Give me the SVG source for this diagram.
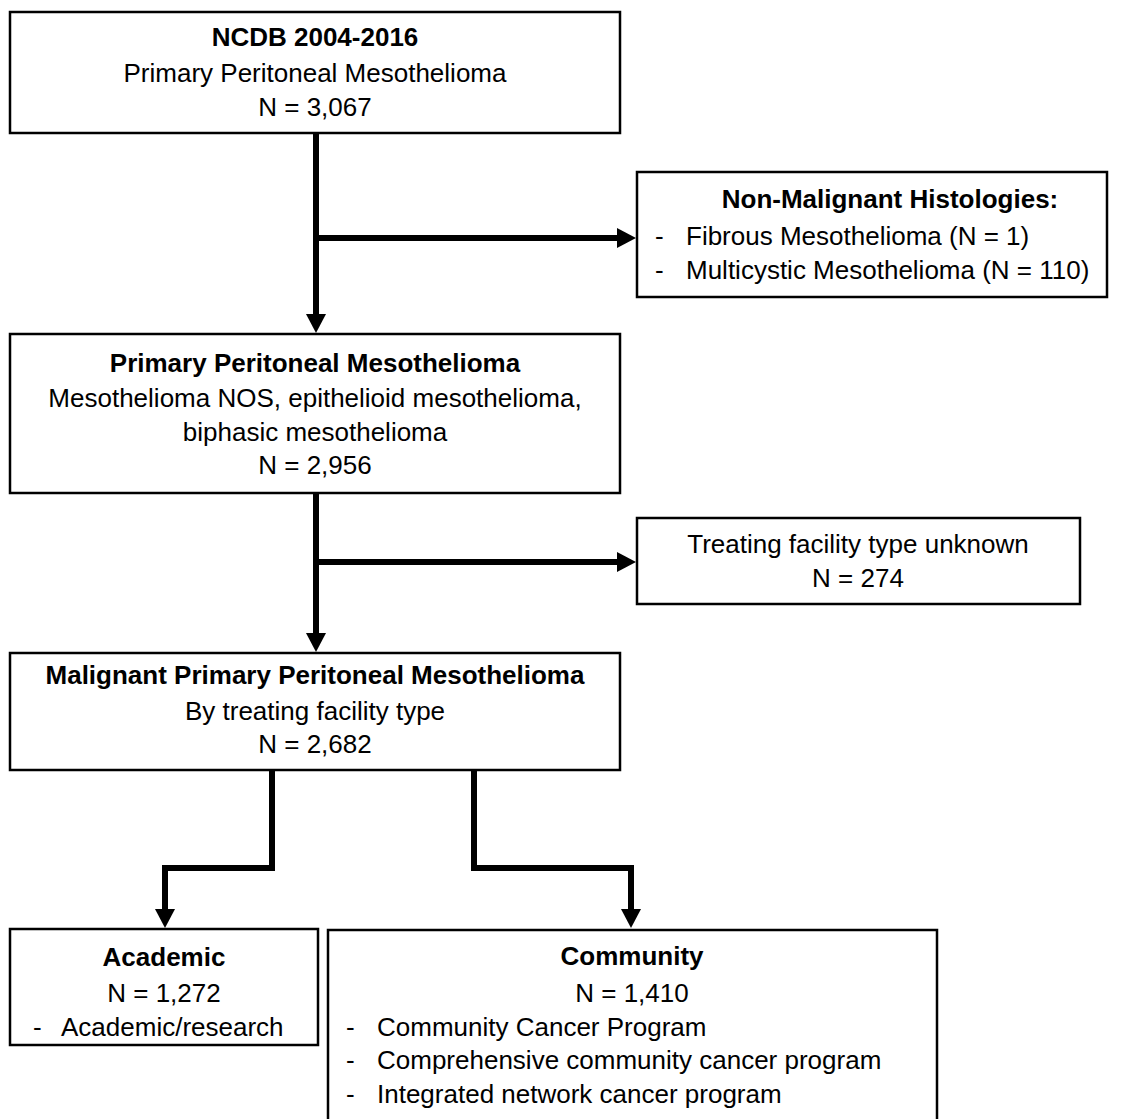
<svg xmlns="http://www.w3.org/2000/svg" width="1136" height="1119" viewBox="0 0 1136 1119">
<style>
.box{fill:#fff;stroke:#000;stroke-width:2.5}
text{font-family:"Liberation Sans",Arial,sans-serif;font-size:26px;fill:#000}
.c{text-anchor:middle}
.b{font-weight:bold}
.conn{fill:none;stroke:#000;stroke-width:6;stroke-linejoin:miter}
</style>
<defs>
<marker id="ah" markerUnits="userSpaceOnUse" markerWidth="20" markerHeight="20" viewBox="0 0 20 20" refX="0" refY="10" orient="auto">
<path d="M0,0 L19,10 L0,20 z" fill="#000"/>
</marker>
</defs>
<rect width="1136" height="1119" fill="#fff"/>
<g id="connectors">
<path class="conn" d="M316,133 V314" marker-end="url(#ah)"/>
<path class="conn" d="M316,238 H617" marker-end="url(#ah)"/>
<path class="conn" d="M316,493 V633" marker-end="url(#ah)"/>
<path class="conn" d="M316,562 H617" marker-end="url(#ah)"/>
<path class="conn" d="M272,770 V868 H165 V909" marker-end="url(#ah)"/>
<path class="conn" d="M474,770 V868 H631 V909" marker-end="url(#ah)"/>
</g>
<g id="n1">
<rect class="box" x="10" y="12" width="610" height="121"/>
<text class="c b" x="315" y="46">NCDB 2004-2016</text>
<text class="c" x="315" y="82">Primary Peritoneal Mesothelioma</text>
<text class="c" x="315" y="116">N = 3,067</text>
</g>
<g id="n2">
<rect class="box" x="637" y="172" width="470" height="125"/>
<text class="c b" x="890" y="208">Non-Malignant Histologies:</text>
<text x="655" y="245">-</text>
<text x="686" y="245">Fibrous Mesothelioma (N = 1)</text>
<text x="655" y="279">-</text>
<text x="686" y="279">Multicystic Mesothelioma (N = 110)</text>
</g>
<g id="n3">
<rect class="box" x="10" y="334" width="610" height="159"/>
<text class="c b" x="315" y="372">Primary Peritoneal Mesothelioma</text>
<text class="c" x="315" y="407">Mesothelioma NOS, epithelioid mesothelioma,</text>
<text class="c" x="315" y="441">biphasic mesothelioma</text>
<text class="c" x="315" y="474">N = 2,956</text>
</g>
<g id="n4">
<rect class="box" x="637" y="518" width="443" height="86"/>
<text class="c" x="858" y="553">Treating facility type unknown</text>
<text class="c" x="858" y="587">N = 274</text>
</g>
<g id="n5">
<rect class="box" x="10" y="653" width="610" height="117"/>
<text class="c b" x="315" y="684">Malignant Primary Peritoneal Mesothelioma</text>
<text class="c" x="315" y="720">By treating facility type</text>
<text class="c" x="315" y="753">N = 2,682</text>
</g>
<g id="n6">
<rect class="box" x="10" y="929" width="308" height="116"/>
<text class="c b" x="164" y="966">Academic</text>
<text class="c" x="164" y="1002">N = 1,272</text>
<text x="33" y="1036">-</text>
<text x="61" y="1036">Academic/research</text>
</g>
<g id="n7">
<rect class="box" x="328" y="930" width="609" height="200"/>
<text class="c b" x="632" y="965">Community</text>
<text class="c" x="632" y="1002">N = 1,410</text>
<text x="346" y="1036">-</text>
<text x="377" y="1036">Community Cancer Program</text>
<text x="346" y="1069">-</text>
<text x="377" y="1069">Comprehensive community cancer program</text>
<text x="346" y="1103">-</text>
<text x="377" y="1103">Integrated network cancer program</text>
</g>
</svg>
